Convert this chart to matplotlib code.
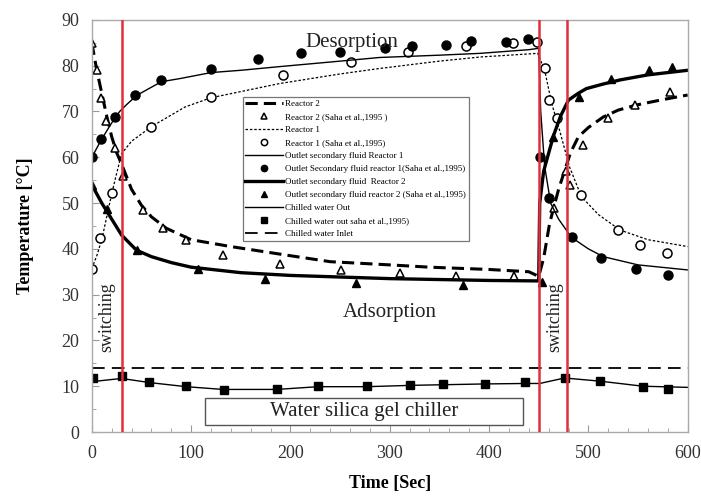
import matplotlib
matplotlib.use("Agg")
import matplotlib.pyplot as plt
from matplotlib.ticker import MultipleLocator
from matplotlib.patches import Rectangle

plt.rcParams['font.family'] = ['Liberation Serif', 'DejaVu Serif']

# model curves
t_r2 = [0, 5, 10, 15, 20, 25, 30, 40, 50, 60, 75, 100, 140, 200, 240, 300, 340, 400, 440, 450,
        455, 461, 470, 476, 482, 490, 500, 515, 530, 548, 575, 600]
T_r2 = [85, 79, 74, 69, 64.5, 61, 58.5, 53, 49.5, 47, 44.5, 42, 40.5, 38.5, 37.2, 36.5, 36, 35.5, 35, 34,
        38, 45.6, 53, 57, 61, 64.5, 66.5, 68.8, 70.3, 71.4, 72.6, 73.6]

t_r1 = [0, 5, 10, 15, 20, 25, 30, 40, 60, 94, 120, 189, 250, 290, 350, 391, 449,
        456, 463, 471, 481, 493, 510, 532, 560, 600]
T_r1 = [35.7, 38.5, 42, 47, 52, 56.5, 60.8, 63.5, 66.7, 71, 73, 76.1, 78.2, 79.4, 81, 81.9, 82.7,
        79, 71.8, 65.9, 57.9, 51.4, 47.5, 44.1, 42, 40.5]

t_out1 = [0, 10, 20, 28, 35, 45, 70, 89, 120, 150, 189, 250, 290, 350, 391, 440, 450,
          452, 456, 462, 470, 483, 500, 515, 550, 600]
T_out1 = [60, 64, 67.5, 70, 71.5, 73.5, 76.5, 77.2, 78.5, 79, 79.8, 81, 81.8, 82.3, 82.7, 83.5, 83.8,
          70, 58, 50, 46.5, 42.5, 40, 38.3, 36.5, 35.4]

t_out2 = [0, 10, 20, 30, 45, 60, 80, 100, 150, 200, 300, 400, 450,
          451, 455, 465, 472, 480, 490, 498, 515, 532, 560, 600]
T_out2 = [54, 50, 46.5, 43, 39.7, 38.3, 37, 36, 34.8, 34.2, 33.5, 33.1, 33,
          50, 57, 64.8, 69, 72.5, 74, 75, 76, 76.9, 78, 79]

t_cw = [0, 30, 58, 95, 132, 186, 228, 277, 323, 396, 436, 451, 476, 512, 555, 600]
T_cw = [11, 11.7, 10.8, 9.9, 9.3, 9.3, 9.9, 9.9, 10.2, 10.5, 10.6, 10.6, 11.8, 11.1, 10, 9.75]

t_in = [0, 600]
T_in = [14, 14]

# Saha et al. 1995 data
ts_r2 = [0, 5, 9, 14, 23, 31, 52, 72, 95, 132, 189, 251, 310, 367, 425,
         465, 477, 481, 495, 520, 547, 582]
Ts_r2 = [85, 79, 73, 68, 62, 56, 48.5, 44.5, 42, 38.6, 36.8, 35.4, 34.8, 34.1, 34,
         49, 57, 54, 62.7, 68.5, 71.4, 74.3]

ts_r1 = [0, 8, 20, 60, 120, 193, 261, 318, 377, 424, 448, 456, 460, 468, 493, 530, 552, 579]
Ts_r1 = [35.7, 42.3, 52.1, 66.7, 73.2, 78, 80.9, 83, 84.3, 84.9, 85.2, 79.4, 72.5, 68.5, 51.7, 44.1, 40.8, 39]

ts_out1 = [0, 9, 23, 43, 70, 120, 167, 211, 250, 295, 322, 357, 382, 417, 439,
           451, 460, 484, 513, 548, 580]
Ts_out1 = [60.1, 64.1, 68.8, 73.6, 76.9, 79.2, 81.4, 82.7, 83, 83.8, 84.3, 84.5, 85.3, 85.2, 85.9,
           60, 51.2, 42.6, 38.1, 35.7, 34.3]

ts_out2 = [0, 15, 45, 107, 174, 266, 374, 453, 464, 491, 523, 561, 584]
Ts_out2 = [54, 48.8, 39.7, 35.6, 33.5, 32.5, 32.1, 32.8, 64.5, 73.2, 77.2, 79, 79.8]

ts_cw = [1, 30, 58, 95, 133, 186, 228, 277, 320, 354, 396, 436, 476, 512, 555, 580]
Ts_cw = [11.7, 12.2, 11, 10, 9.2, 9.4, 10.1, 10, 10.3, 10.4, 10.5, 11, 11.9, 11.1, 9.9, 9.5]

switch_times = [30, 450, 478]

fig = plt.figure(figsize=(7.01, 4.98), dpi=100)
ax = fig.add_axes([0.131, 0.1325, 0.85, 0.8275])

ax.plot(t_r2, T_r2, color='black', lw=2.2, ls=(0, (4, 2)), label='Reactor 2')
ax.plot(ts_r2, Ts_r2, ls='none', marker='^', mfc='white', mec='black', mew=1.1, ms=6,
        label='Reactor 2 (Saha et al.,1995 )')
ax.plot(t_r1, T_r1, color='black', lw=0.9, ls=(0, (2, 1.5)), label='Reactor 1')
ax.plot(ts_r1, Ts_r1, ls='none', marker='o', mfc='white', mec='black', mew=1.1, ms=6.5,
        label='Reactor 1 (Saha et al.,1995)')
ax.plot(t_out1, T_out1, color='black', lw=1.0, label='Outlet secondary fluid Reactor 1')
ax.plot(ts_out1, Ts_out1, ls='none', marker='o', color='black', ms=6.5,
        label='Outlet Secondary fluid reactor 1(Saha et al.,1995)')
ax.plot(t_out2, T_out2, color='black', lw=2.4, label='Outlet secondary fluid  Reactor 2')
ax.plot(ts_out2, Ts_out2, ls='none', marker='^', color='black', ms=5.5,
        label='Outlet secondary fluid reactor 2 (Saha et al.,1995)')
ax.plot(t_cw, T_cw, color='black', lw=1.0, label='Chilled water Out')
ax.plot(ts_cw, Ts_cw, ls='none', marker='s', color='black', ms=6,
        label='Chilled water out saha et al.,1995)')
ax.plot(t_in, T_in, color='black', lw=1.3, ls=(0, (7, 4)), label='Chilled water Inlet')

for s in switch_times:
    ax.axvline(s, color='#e0303a', lw=1.8, zorder=5)

ax.set_xlim(0, 600)
ax.set_ylim(0, 90)
ax.xaxis.set_major_locator(MultipleLocator(100))
ax.xaxis.set_minor_locator(MultipleLocator(20))
ax.yaxis.set_major_locator(MultipleLocator(10))
ax.yaxis.set_minor_locator(MultipleLocator(5))
ax.tick_params(which='both', direction='in', colors='#999999', labelcolor='#333333', labelsize=13)
ax.tick_params(which='major', length=5, pad=9)
ax.tick_params(which='minor', length=3)
for sp in ax.spines.values():
    sp.set_color('#aaaaaa')
    sp.set_linewidth(1.0)

ax.set_xlabel('Time [Sec]', fontsize=13, fontweight='bold', labelpad=10)
ax.set_ylabel('Temperature [°C]', fontsize=13, fontweight='bold', labelpad=20)

ax.text(262, 85, 'Desorption', fontsize=15, ha='center', va='center', color='#222222')
ax.text(300, 26, 'Adsorption', fontsize=15, ha='center', va='center', color='#222222')
ax.text(15, 25, 'switching', fontsize=13, rotation=90, ha='center', va='center', color='#222222')
ax.text(466, 25, 'switching', fontsize=13, rotation=90, ha='center', va='center', color='#222222')

ax.add_patch(Rectangle((114, 1.5), 320, 5.9, fill=False, edgecolor='#555555', lw=1.0, zorder=4))
ax.text(274, 4.45, 'Water silica gel chiller', fontsize=15, ha='center', va='center', color='#222222')

leg = ax.legend(loc='upper left', bbox_to_anchor=(0.253, 0.813), borderaxespad=0,
                fontsize=6.5, handlelength=4.2, handletextpad=0.2, labelspacing=0.52,
                borderpad=0.3, markerscale=0.7, frameon=True, fancybox=False, framealpha=1)
leg.get_frame().set_edgecolor('#777777')
leg.get_frame().set_linewidth(0.9)
leg.set_zorder(6)

fig.savefig('out.png', dpi=100)
